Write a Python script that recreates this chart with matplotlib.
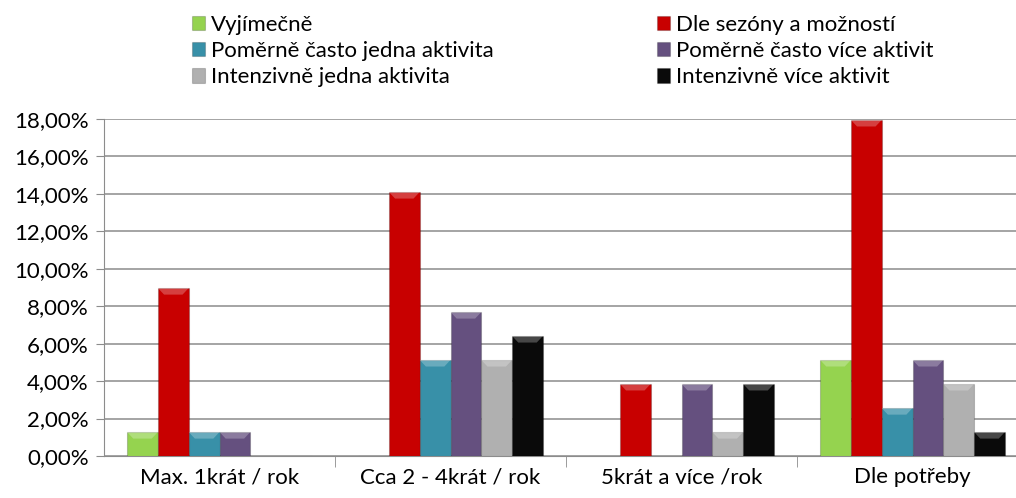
import matplotlib.pyplot as plt
import matplotlib.patches as patches
import numpy as np
from matplotlib.ticker import FuncFormatter, FixedLocator

plt.rcParams["font.family"] = ["Lato", "DejaVu Sans"]

categories = ["Max. 1krát / rok", "Cca 2 - 4krát / rok", "5krát a více /rok", "Dle potřeby"]
series_names = [
    "Vyjímečně",
    "Dle sezóny a možností",
    "Poměrně často jedna aktivita",
    "Poměrně často více aktivit",
    "Intenzivně jedna aktivita",
    "Intenzivně více aktivit",
]
vyjimecne = [1.28, 0.0, 0.0, 5.13]
dle_sezony = [8.97, 14.10, 3.85, 17.95]
casto_jedna = [1.28, 5.13, 0.0, 2.56]
casto_vice = [1.28, 7.69, 3.85, 5.13]
intenzivne_jedna = [0.0, 5.13, 1.28, 3.85]
intenzivne_vice = [0.0, 6.41, 3.85, 1.28]
values = [vyjimecne, dle_sezony, casto_jedna, casto_vice, intenzivne_jedna, intenzivne_vice]
colors = ["#95D34F", "#C80000", "#3890A8", "#65507F", "#B0B0B0", "#0A0A0A"]

fig = plt.figure(figsize=(10.16, 4.98), dpi=100)
ax = fig.add_axes([104 / 1016, 42 / 498, 924 / 1016, 337 / 498])

x = np.arange(len(categories))
bw = 0.8 / 6
handles = []
for i, (vals, col) in enumerate(zip(values, colors)):
    pos = x - 0.4 + bw * (i + 0.5)
    bars = ax.bar(pos, vals, width=bw, color=col, edgecolor="#00000030",
                  linewidth=0.8, zorder=3, label=series_names[i])
    handles.append(bars)
    # light bevel at top of each bar
    for b in bars:
        h = b.get_height()
        if h <= 0:
            continue
        x0, w = b.get_x(), b.get_width()
        bev = min(0.35, h * 0.3)
        tri = patches.Polygon(
            [(x0, h), (x0 + w, h), (x0 + w * 0.8, h - bev), (x0 + w * 0.2, h - bev)],
            closed=True, facecolor="white", alpha=0.25, edgecolor="none", zorder=4)
        ax.add_patch(tri)

ax.set_xlim(-0.5, 3.5)
ax.set_ylim(0, 18)
ax.set_yticks(np.arange(0, 18.1, 2))
ax.yaxis.set_major_formatter(FuncFormatter(lambda v, p: f"{v:.2f}%".replace(".", ",")))
ax.grid(axis="y", color="#8C8C8C", linewidth=1.1, zorder=0)
ax.set_xticks(x)
ax.set_xticklabels(categories, fontsize=16)
ax.tick_params(axis="x", length=0, pad=8)
ax.xaxis.set_minor_locator(FixedLocator([0.5, 1.5, 2.5]))
ax.tick_params(axis="x", which="minor", length=8, color="#8C8C8C", direction="out")
ax.tick_params(axis="y", labelsize=16, length=6, color="#8C8C8C", pad=5)
for s in ["top", "right"]:
    ax.spines[s].set_visible(False)
ax.spines["left"].set_color("#8C8C8C")
ax.spines["bottom"].set_color("#8C8C8C")

kw = dict(frameon=False, fontsize=16, handlelength=0.6, handleheight=0.6,
          handletextpad=0.25, labelspacing=0.28, borderaxespad=0)
fig.legend([handles[0], handles[2], handles[4]],
           [series_names[0], series_names[2], series_names[4]],
           loc="upper left", bbox_to_anchor=(183 / 1016, 1 - 6 / 498), **kw)
fig.legend([handles[1], handles[3], handles[5]],
           [series_names[1], series_names[3], series_names[5]],
           loc="upper left", bbox_to_anchor=(648 / 1016, 1 - 6 / 498), **kw)

fig.savefig("out.png", dpi=100)
